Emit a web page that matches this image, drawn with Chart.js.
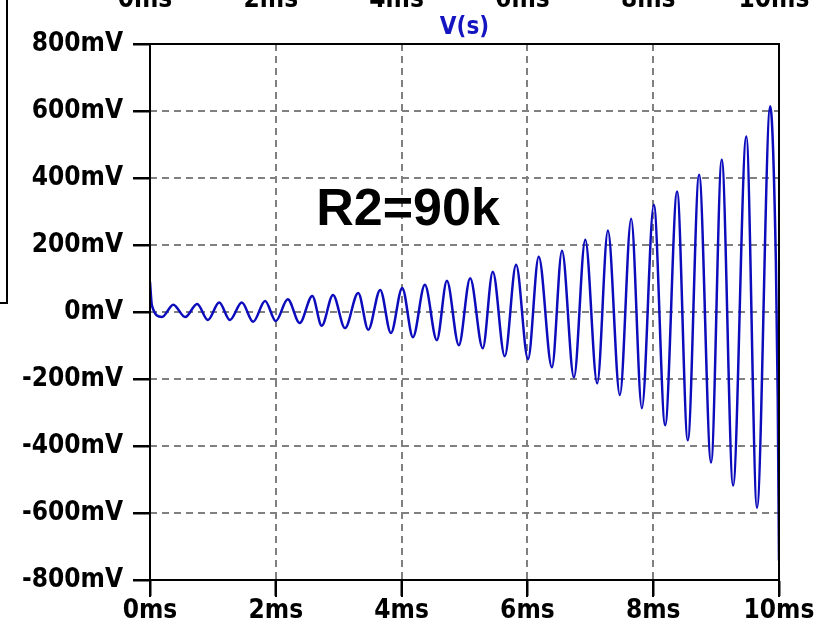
<!DOCTYPE html>
<html>
<head>
<meta charset="utf-8">
<title>V(s) R2=90k</title>
<script src="https://cdn.jsdelivr.net/npm/chart.js@4.4.1/dist/chart.umd.min.js"></script>
<style>
  html, body { margin: 0; padding: 0; background: #fff; }
  #wrap { width: 825px; height: 631px; }
</style>
</head>
<body>
<div id="wrap"><canvas id="chart"></canvas></div>
<script>
const timeMs = [0, 0.03, 0.19, 0.37, 0.56, 0.75, 0.92, 1.10, 1.27, 1.46, 1.64, 1.83, 2.00, 2.19, 2.38,
  2.58, 2.73, 2.91, 3.10, 3.31, 3.47, 3.66, 3.83, 4.01, 4.18, 4.37, 4.56, 4.72, 4.91, 5.09,
  5.29, 5.45, 5.64, 5.82, 6.01, 6.18, 6.39, 6.55, 6.74, 6.92, 7.11, 7.28, 7.47, 7.65, 7.82,
  8.01, 8.19, 8.38, 8.55, 8.73, 8.92, 9.09, 9.27, 9.48, 9.65, 9.86, 9.95, 9.98, 10.0];
const vs = [90, 20, -15, 22, -15, 24, -24, 28, -24, 28, -29, 33, -27, 38, -33,
  48, -41, 51, -48, 57, -53, 66, -63, 72, -75, 81, -84, 93, -99, 101,
  -108, 120, -132, 141, -141, 165, -165, 183, -195, 216, -213, 243, -248, 278, -287,
  320, -338, 360, -383, 410, -449, 455, -518, 524, -584, 614, 155, -257, -742];

const xTicks = [0, 2, 4, 6, 8, 10];
const yTicks = [-800, -600, -400, -200, 0, 200, 400, 600, 800];
const noteText = 'R2=90k';
const traceName = 'V(s)';

const points = timeMs.map((t, i) => ({ x: t, y: vs[i] }));

const fontFam = "'DejaVu Sans Condensed', 'DejaVu Sans', sans-serif";
const axisFont = { family: fontFam, size: 26, weight: 'bold' };

// dashed grid under the trace
const dashGrid = {
  id: 'dashGrid',
  beforeDatasetsDraw(chart) {
    const ctx = chart.ctx;
    const a = chart.chartArea;
    const xs = chart.scales.x, ys = chart.scales.y;
    ctx.save();
    ctx.strokeStyle = '#808080';
    ctx.lineWidth = 2;
    ctx.setLineDash([7, 5]);
    ctx.beginPath();
    xTicks.slice(1, -1).forEach(t => {
      const px = Math.round(xs.getPixelForValue(t));
      ctx.moveTo(px, a.top);
      ctx.lineTo(px, a.bottom);
    });
    yTicks.slice(1, -1).forEach(v => {
      const py = Math.round(ys.getPixelForValue(v));
      ctx.moveTo(a.left, py);
      ctx.lineTo(a.right, py);
    });
    ctx.stroke();
    ctx.restore();
  }
};

const decor = {
  id: 'decor',
  afterDraw(chart) {
    const ctx = chart.ctx;
    const a = chart.chartArea;
    const xs = chart.scales.x, ys = chart.scales.y;
    ctx.save();
    ctx.setLineDash([]);
    ctx.strokeStyle = '#000';
    ctx.fillStyle = '#000';
    ctx.lineWidth = 2;
    ctx.lineCap = 'butt';
    // plot frame
    ctx.strokeRect(a.left, a.top, a.right - a.left, a.bottom - a.top);
    // outside tick marks
    ctx.beginPath();
    xTicks.forEach(t => {
      const px = Math.round(xs.getPixelForValue(t));
      ctx.moveTo(px, a.bottom);
      ctx.lineTo(px, a.bottom + 17);
    });
    yTicks.forEach(v => {
      const py = Math.round(ys.getPixelForValue(v));
      ctx.moveTo(a.left - 17, py);
      ctx.lineTo(a.left, py);
    });
    ctx.stroke();
    // leftover box of the pane to the left
    ctx.fillRect(6, 0, 2, 304);
    ctx.fillRect(0, 302, 8, 2);
    // cut-off labels of the pane above
    ctx.font = 'bold 26px ' + fontFam;
    ctx.textAlign = 'center';
    ctx.textBaseline = 'alphabetic';
    xTicks.forEach(t => ctx.fillText(t + 'ms', xs.getPixelForValue(t) - 5, 7));
    // trace name
    ctx.fillStyle = '#1414c0';
    ctx.font = 'bold 24px ' + fontFam;
    ctx.fillText(traceName, (a.left + a.right) / 2, 34);
    // annotation
    ctx.fillStyle = '#000';
    ctx.font = "bold 52px 'Liberation Sans', Arial, sans-serif";
    ctx.fillText(noteText, 408, 225);
    ctx.restore();
  }
};

new Chart(document.getElementById('chart'), {
  type: 'line',
  data: {
    datasets: [{
      data: points,
      borderColor: '#0c0cbc',
      borderWidth: 2.5,
      pointRadius: 0,
      cubicInterpolationMode: 'monotone',
      fill: false
    }]
  },
  options: {
    responsive: true,
    maintainAspectRatio: false,
    animation: false,
    layout: { padding: { top: 44, right: 46, left: 0, bottom: 0 } },
    plugins: { legend: { display: false }, tooltip: { enabled: false } },
    scales: {
      x: {
        type: 'linear',
        min: 0,
        max: 10,
        afterBuildTicks: s => { s.ticks = xTicks.map(v => ({ value: v })); },
        afterFit: s => { s.height = 51; },
        ticks: { color: '#000', font: axisFont, padding: 0, maxRotation: 0, callback: v => v + 'ms' },
        grid: { drawOnChartArea: false, drawTicks: true, tickLength: 16, tickColor: '#000', tickWidth: 2 },
        border: { display: true, color: '#000', width: 2 }
      },
      y: {
        min: -800,
        max: 800,
        afterBuildTicks: s => { s.ticks = yTicks.map(v => ({ value: v })); },
        afterFit: s => { s.width = 150; },
        ticks: { color: '#000', font: axisFont, padding: 10, callback: v => v + 'mV' },
        grid: { drawOnChartArea: false, drawTicks: true, tickLength: 17, tickColor: '#000', tickWidth: 2 },
        border: { display: true, color: '#000', width: 2 }
      }
    }
  },
  plugins: [dashGrid, decor]
});
</script>
</body>
</html>
